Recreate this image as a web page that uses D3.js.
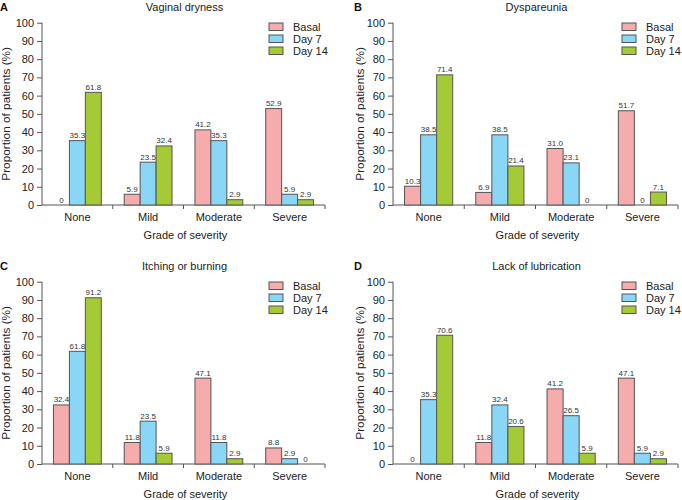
<!DOCTYPE html>
<html>
<head>
<meta charset="utf-8">
<script src="https://cdn.jsdelivr.net/npm/d3@7"></script>
<style>
  html, body { margin: 0; padding: 0; background: #fff; }
  svg { display: block; font-family: "Liberation Sans", Arial, Helvetica, sans-serif; }
</style>
</head>
<body>
<svg id="chart" width="682" height="500"></svg>
<script>
// ---- data ----
const categories = ["None", "Mild", "Moderate", "Severe"];
const seriesNames = ["Basal", "Day 7", "Day 14"];
const seriesColors = ["#f6abad", "#8ad6f6", "#a4cb35"];
const yTicks = [0, 10, 20, 30, 40, 50, 60, 70, 80, 90, 100];

const panelLetters = ["A", "B", "C", "D"];
const panelTitles = ["Vaginal dryness", "Dyspareunia", "Itching or burning", "Lack of lubrication"];

const vaginalBasal = [0, 5.9, 41.2, 52.9];
const vaginalDay7  = [35.3, 23.5, 35.3, 5.9];
const vaginalDay14 = [61.8, 32.4, 2.9, 2.9];

const dyspBasal = [10.3, 6.9, 31.0, 51.7];
const dyspDay7  = [38.5, 38.5, 23.1, 0];
const dyspDay14 = [71.4, 21.4, 0, 7.1];

const itchBasal = [32.4, 11.8, 47.1, 8.8];
const itchDay7  = [61.8, 23.5, 11.8, 2.9];
const itchDay14 = [91.2, 5.9, 2.9, 0];

const lubBasal = [0, 11.8, 41.2, 47.1];
const lubDay7  = [35.3, 32.4, 26.5, 5.9];
const lubDay14 = [70.6, 20.6, 5.9, 2.9];

const panelData = [
  [vaginalBasal, vaginalDay7, vaginalDay14],
  [dyspBasal, dyspDay7, dyspDay14],
  [itchBasal, itchDay7, itchDay14],
  [lubBasal, lubDay7, lubDay14]
];

// ---- layout ----
const svg = d3.select("#chart");
const offsets = [[0, 0], [351, 0], [0, 259], [351, 259]];
const plotRights = [325, 327, 325, 327];
const yTitleX = [6, 9, 6, 9];
const plotLeft = 42, plotTop = 22.7, plotBottom = 205;
const axisColor = "#555";
const fmt = v => v === 0 ? "0" : v.toFixed(1);

panelData.forEach((series, p) => {
  const g = svg.append("g").attr("transform", `translate(${offsets[p][0]},${offsets[p][1]})`);
  const plotRight = plotRights[p];

  const x0 = d3.scaleBand().domain(categories).range([plotLeft, plotRight]).paddingInner(0).paddingOuter(0);
  const bw = x0.bandwidth();
  const pad = bw * 0.162;
  const x1 = d3.scaleBand().domain(seriesNames).range([pad, bw - pad]).padding(0);
  const y = d3.scaleLinear().domain([0, 100]).range([plotBottom, plotTop]);

  // letter + title
  g.append("text").attr("x", p % 2 ? 3 : 0).attr("y", 11)
    .attr("font-size", 11).attr("font-weight", "bold").attr("fill", "#111").text(panelLetters[p]);
  g.append("text").attr("x", (plotLeft + plotRight) / 2 + 1).attr("y", 11)
    .attr("text-anchor", "middle").attr("font-size", 11).attr("fill", "#222").text(panelTitles[p]);

  // y axis
  const yAxis = d3.axisLeft(y).tickValues(yTicks).tickSize(5).tickPadding(3).tickFormat(d3.format("d"));
  const ya = g.append("g").attr("transform", `translate(${plotLeft},0)`).call(yAxis);
  ya.select(".domain").attr("stroke", axisColor).attr("d", `M0,${plotTop}V${plotBottom}`);
  ya.selectAll(".tick line").attr("stroke", axisColor);
  ya.selectAll(".tick text").attr("font-size", 11).attr("fill", "#222")
    .attr("font-family", "'Liberation Sans', Arial, sans-serif");

  // x axis
  const xa = g.append("g").attr("transform", `translate(0,${plotBottom})`)
    .call(d3.axisBottom(x0).tickSize(0).tickPadding(8));
  xa.select(".domain").attr("stroke", axisColor).attr("d", `M${plotLeft},0H${plotRight}`);
  xa.selectAll(".tick text").attr("font-size", 11).attr("fill", "#222")
    .attr("font-family", "'Liberation Sans', Arial, sans-serif");
  const bounds = categories.map(c => x0(c)).concat([x0(categories[categories.length - 1]) + bw]).slice(1);
  xa.selectAll("line.bound").data(bounds).enter().append("line")
    .attr("class", "bound")
    .attr("x1", d => d).attr("x2", d => d).attr("y1", 0).attr("y2", 4)
    .attr("stroke", axisColor);

  // axis titles
  g.append("text").attr("x", (plotLeft + plotRight) / 2 + 2).attr("y", 239)
    .attr("text-anchor", "middle").attr("font-size", 11).attr("fill", "#222").text("Grade of severity");
  g.append("text").attr("transform", `translate(${yTitleX[p] + 4},${(plotTop + plotBottom) / 2}) rotate(-90)`)
    .attr("text-anchor", "middle").attr("font-size", 11.8).attr("fill", "#222").text("Proportion of patients (%)");

  // bars
  const groups = g.append("g").selectAll("g").data(categories).enter().append("g")
    .attr("transform", c => `translate(${x0(c)},0)`);
  seriesNames.forEach((s, si) => {
    groups.append("rect")
      .attr("x", (c, ci) => x1(s))
      .attr("y", (c, ci) => y(series[si][ci]))
      .attr("width", x1.bandwidth())
      .attr("height", (c, ci) => y(0) - y(series[si][ci]))
      .attr("fill", seriesColors[si])
      .attr("stroke", (c, ci) => series[si][ci] > 0 ? "#555" : "none")
      .attr("stroke-width", 1);
    groups.append("text")
      .attr("x", (c, ci) => x1(s) + x1.bandwidth() / 2)
      .attr("y", (c, ci) => y(series[si][ci]) - 2.5)
      .attr("text-anchor", "middle").attr("font-size", 8).attr("fill", "#333")
      .text((c, ci) => fmt(series[si][ci]));
  });

  // legend
  const lx = plotRight - 56, ly = 23;
  seriesNames.forEach((s, si) => {
    g.append("rect").attr("x", lx).attr("y", ly + si * 12).attr("width", 14).attr("height", 7.5)
      .attr("fill", seriesColors[si]).attr("stroke", "#555").attr("stroke-width", 1);
    g.append("text").attr("x", lx + 24).attr("y", ly + si * 12 + 7.5)
      .attr("font-size", 11).attr("fill", "#222").text(s);
  });
});
</script>
</body>
</html>
